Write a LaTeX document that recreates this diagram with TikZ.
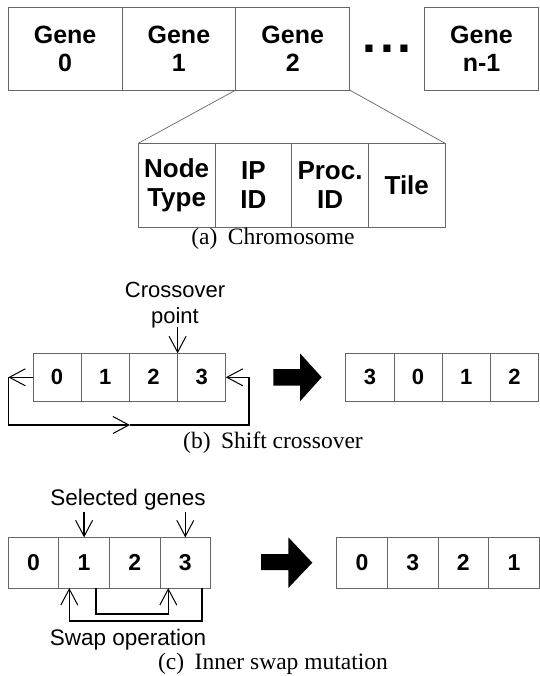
\documentclass[tikz,border=0pt]{standalone}
\usepackage{fontspec}
\setmainfont{Liberation Sans}
\newfontfamily\capfont{Liberation Serif}
\usetikzlibrary{positioning,arrows.meta}

\tikzset{
  cell/.style={draw=black!60, line width=0.9pt, outer sep=0pt, inner sep=0pt, align=center},
  gene/.style={cell, minimum width=113.8pt, minimum height=82.7pt, font=\fontsize{25}{28.5}\selectfont\bfseries},
  field/.style={cell, minimum width=76.7pt, minimum height=84pt, font=\fontsize{26}{29}\selectfont\bfseries},
  bitb/.style={cell, minimum width=48.2pt, minimum height=48pt, font=\fontsize{22}{24}\selectfont\bfseries},
  bitc/.style={cell, minimum width=50.6pt, minimum height=50.7pt, font=\fontsize{23}{25}\selectfont\bfseries},
  note/.style={font=\fontsize{22}{26.6}\selectfont, align=center, inner sep=0pt},
  subcap/.style={font=\capfont\fontsize{23.5}{28}\selectfont, inner sep=0pt},
  link/.style={line width=1.3pt},
  barb/.style={link, -{Straight Barb[length=16pt,width=17pt,line width=1pt]}}
}

\begin{document}
\begin{tikzpicture}[x=1pt, y=-1pt]
\useasboundingbox (0,0) rectangle (539,676);

% (a) chromosome and the fields of one gene
\node[gene, anchor=west] (g0) at (8.2,48.7) {Gene\\0};
\node[gene, right=0pt of g0] (g1) {Gene\\1};
\node[gene, right=0pt of g1] (g2) {Gene\\2};
\node[gene, anchor=east] (gn) at (538.4,48.7) {Gene\\n-1};
\node[font=\fontsize{50}{50}\selectfont\bfseries, inner sep=0pt] (dots) at (387,48.5) {.\kern4pt.\kern4pt.};

\node[field, anchor=west] (f0) at (138.3,185.3) {Node\\Type};
\node[field, right=0pt of f0] (f1) {IP\\ID};
\node[field, right=0pt of f1] (f2) {Proc.\\ID};
\node[field, right=0pt of f2] (f3) {Tile};
\draw[black!60, line width=0.7pt] (g2.south west) -- (f0.north west)
  (g2.south east) -- (f3.north east);
\node[subcap] (capa) at (273,239) {(a)\hspace{0.45em}Chromosome};

% (b) shift crossover
\node[bitb, anchor=west] (b0) at (33,377.3) {0};
\node[bitb, right=0pt of b0] (b1) {1};
\node[bitb, right=0pt of b1] (b2) {2};
\node[bitb, right=0pt of b2] (b3) {3};
\node[bitb, anchor=west] (r0) at (345.8,377.3) {3};
\node[bitb, right=0pt of r0] (r1) {0};
\node[bitb, right=0pt of r1] (r2) {1};
\node[bitb, right=0pt of r2] (r3) {2};

\node[note] (cross) at (175,305) {Crossover\\point};
\draw[barb] ([yshift=26pt]b3.north west) -- (b3.north west);

\coordinate (bl) at (8.3,377.3);
\coordinate (bm) at (130,425);
\coordinate (br) at (249,377.3);
\draw[barb] (b0.west) -- (bl);
\draw[barb] (bl) |- (bm);
\draw[barb] (bm) -| (br) -- (b3.east);

\fill (273.3,369) -- (300,369) -- (300,353.3) -- (321.7,377.3)
  -- (300,401.3) -- (300,385.7) -- (273.3,385.7) -- cycle;
\node[subcap] (capb) at (273,443) {(b)\hspace{0.45em}Shift crossover};

% (c) inner swap mutation
\node[bitc, anchor=west] (c0) at (8.2,562.7) {0};
\node[bitc, right=0pt of c0] (c1) {1};
\node[bitc, right=0pt of c1] (c2) {2};
\node[bitc, right=0pt of c2] (c3) {3};
\node[bitc, anchor=west] (s0) at (336.8,562.7) {0};
\node[bitc, right=0pt of s0] (s1) {3};
\node[bitc, right=0pt of s1] (s2) {2};
\node[bitc, right=0pt of s2] (s3) {1};

\node[note, font=\fontsize{22.5}{26}\selectfont] (sel) at (128,500) {Selected genes};
\draw[barb] ([yshift=25.6pt]c1.north) -- (c1.north);
\draw[barb] ([yshift=25.6pt]c3.north) -- (c3.north);

\coordinate (ow) at (69.3,621);
\coordinate (oe) at (202,621);
\coordinate (iw) at (96,614);
\coordinate (ie) at (168.3,614);
\draw[barb] (oe |- c3.south) -- (oe) -- (ow) -- (ow |- c1.south);
\draw[barb] (iw |- c1.south) -- (iw) -- (ie) -- (ie |- c3.south);
\node[note, font=\fontsize{22.5}{26}\selectfont] (swap) at (128,640) {Swap operation};

\fill (261,554) -- (288.3,554) -- (288.3,537.3) -- (312.3,562.7)
  -- (288.3,588) -- (288.3,570) -- (261,570) -- cycle;
\node[subcap] (capc) at (273,663.5) {(c)\hspace{0.45em}Inner swap mutation};
\end{tikzpicture}
\end{document}
